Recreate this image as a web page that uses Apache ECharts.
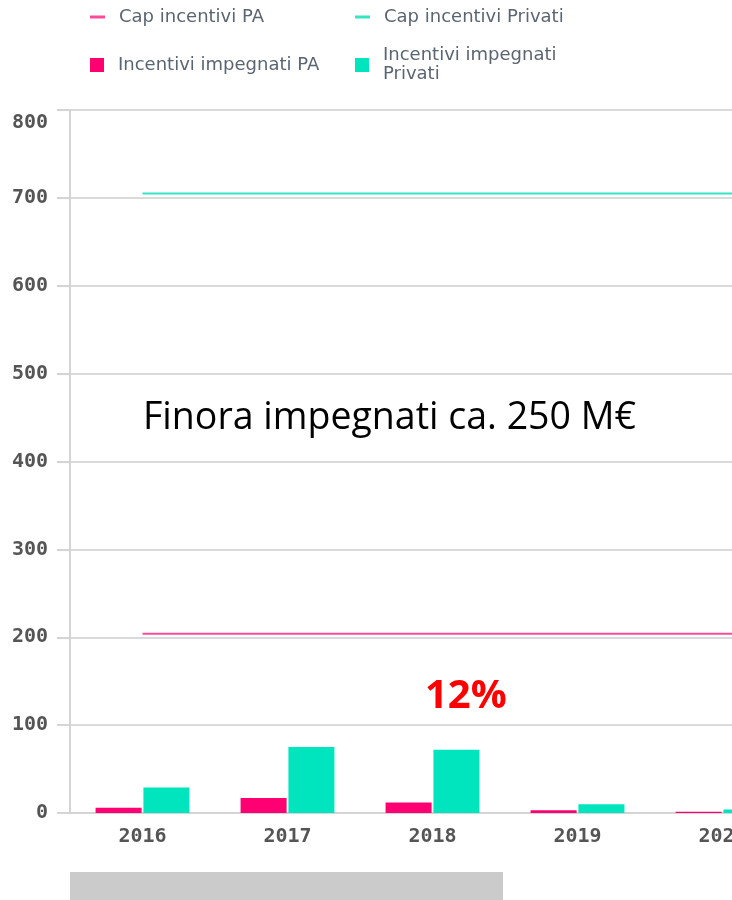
<!DOCTYPE html>
<html>
<head>
<meta charset="utf-8">
<script src="https://cdn.jsdelivr.net/npm/echarts@6/dist/echarts.min.js"></script>
<style>
  html, body { margin: 0; padding: 0; background: #fff; }
  #chart { width: 732px; height: 900px; }
</style>
</head>
<body>
<div id="chart"></div>
<script>
// dati (il 2021 è fuori dall'area visibile, servono solo le linee dei cap)
const years = ['2016', '2017', '2018', '2019', '2020', '2021'];
const capPA = [204, 204, 204, 204, 204, 204];
const capPrivati = [705, 705, 705, 705, 705, 705];
const impegnatiPA = [6, 17, 12, 3, 1.5, null];
const impegnatiPrivati = [29, 75, 72, 10, 4, null];
const yTicks = [0, 100, 200, 300, 400, 500, 600, 700, 800];

const pink = '#ff0072';
const green = '#00e5be';
const pinkLine = '#ff4b98';
const greenLine = '#35e3c5';
const legendText = { color: '#5b6572', fontSize: 18, fontFamily: 'DejaVu Sans', padding: [0, 0, 0, 9] };
const monoLabel = { color: '#555', fontFamily: 'DejaVu Sans Mono', fontWeight: 'bold', fontSize: 20 };

var myChart = echarts.init(document.getElementById('chart'), null, { renderer: 'canvas' });

var option = {
  animation: false,
  legend: [
    { left: 85, top: 3, itemWidth: 15, itemHeight: 3, textStyle: legendText,
      data: [{ name: 'Cap incentivi PA', icon: 'rect' }] },
    { left: 350, top: 3, itemWidth: 15, itemHeight: 3, textStyle: legendText,
      data: [{ name: 'Cap incentivi Privati', icon: 'rect' }] },
    { left: 85, top: 51, itemWidth: 14, itemHeight: 14, textStyle: legendText,
      data: [{ name: 'Incentivi impegnati PA', icon: 'rect' }] },
    { left: 350, top: 41, itemWidth: 14, itemHeight: 14,
      textStyle: Object.assign({}, legendText, { lineHeight: 19 }),
      formatter: function (n) { return n === 'Incentivi impegnati Privati' ? 'Incentivi impegnati\nPrivati' : n; },
      data: [{ name: 'Incentivi impegnati Privati', icon: 'rect' }] }
  ],
  grid: { left: 70, top: 110, width: 870, height: 703, containLabel: false, outerBoundsMode: 'none' },
  xAxis: {
    type: 'category',
    data: years,
    axisLine: { lineStyle: { color: '#d4d4d4', width: 2 } },
    axisTick: { show: false },
    axisLabel: Object.assign({ margin: 14 }, monoLabel)
  },
  yAxis: {
    type: 'value',
    min: 0,
    max: 800,
    interval: 100,
    axisLine: { show: true, lineStyle: { color: '#d4d4d4', width: 2 } },
    axisTick: { show: true, length: 13, lineStyle: { color: '#d4d4d4', width: 2 } },
    splitLine: { lineStyle: { color: '#dadada', width: 2 } },
    axisLabel: Object.assign({ margin: 22 }, monoLabel, {
      formatter: function (v) { return v === yTicks[yTicks.length - 1] ? '{top|' + v + '}' : String(v); },
      rich: { top: Object.assign({ padding: [26, 0, 0, 0] }, monoLabel) }
    })
  },
  graphic: [
    {
      type: 'text', left: 143, top: 399,
      style: { text: 'Finora impegnati ca. 250 M€', fontFamily: 'Open Sans', fontSize: 37.5, fill: '#000' }
    },
    {
      type: 'text', left: 425, top: 677,
      style: { text: '12%', fontFamily: 'Open Sans', fontWeight: 'bold', fontSize: 40, fill: '#ff0000' }
    },
    {
      type: 'rect', left: 70, top: 872,
      shape: { width: 433, height: 28 },
      style: { fill: '#cbcbcb' }
    }
  ],
  series: [
    {
      name: 'Cap incentivi PA', type: 'line', data: capPA, symbol: 'none',
      lineStyle: { color: pinkLine, width: 2 }, itemStyle: { color: pinkLine }, z: 3
    },
    {
      name: 'Cap incentivi Privati', type: 'line', data: capPrivati, symbol: 'none',
      lineStyle: { color: greenLine, width: 2 }, itemStyle: { color: greenLine }, z: 3
    },
    {
      name: 'Incentivi impegnati PA', type: 'bar', data: impegnatiPA,
      barWidth: 46, barGap: '4%', itemStyle: { color: pink }
    },
    {
      name: 'Incentivi impegnati Privati', type: 'bar', data: impegnatiPrivati,
      barWidth: 46, barGap: '4%', itemStyle: { color: green }
    }
  ]
};

option && myChart.setOption(option);
</script>
</body>
</html>
